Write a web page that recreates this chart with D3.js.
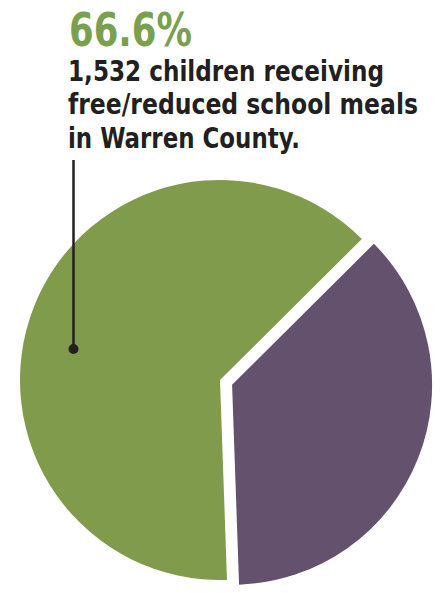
<!DOCTYPE html>
<html>
<head>
<meta charset="utf-8">
<script src="https://cdn.jsdelivr.net/npm/d3@7"></script>
<style>
  body { margin: 0; background: #fff; }
  svg { display: block; }
</style>
</head>
<body>
<svg id="chart" width="441" height="593"></svg>
<script>
// slice shares as drawn in the picture (green = receiving meals)
var categories = ["receiving", "not receiving"];
var shares = [63.1, 36.9];
var colors = ["#819b4c", "#63516e"];
var headline = "66.6%";
var labelLines = ["1,532 children receiving", "free/reduced school meals", "in Warren County."];

var svg = d3.select("#chart");
var cx = 220, cy = 380, radius = 200;

var pie = d3.pie()
    .sort(null)
    .startAngle(Math.PI * 178 / 180 - 2 * Math.PI)
    .endAngle(Math.PI * 178 / 180);

var arc = d3.arc().innerRadius(0).outerRadius(radius);

var data = categories.map(function(c, i){ return {name: c, value: shares[i], color: colors[i]}; });

var g = svg.append("g").attr("transform", "translate(" + cx + "," + cy + ")");

g.selectAll("path")
    .data(pie.value(function(d){ return d.value; })(data))
    .enter().append("path")
    .attr("d", arc)
    .attr("fill", function(d){ return d.data.color; })
    .attr("transform", function(d, i){
        // pull the smaller slice out a bit
        if (i == 0) return null;
        var mid = (d.startAngle + d.endAngle) / 2;
        var off = 13;
        return "translate(" + (Math.sin(mid) * off) + "," + (-Math.cos(mid) * off) + ")";
    });

// leader line + dot
svg.append("line")
    .attr("x1", 73.5).attr("x2", 73.5)
    .attr("y1", 160).attr("y2", 349)
    .attr("stroke", "#231f20")
    .attr("stroke-width", 2.5);
svg.append("circle")
    .attr("cx", 73.5).attr("cy", 349).attr("r", 5)
    .attr("fill", "#231f20");

// text
var font = "'Liberation Sans Narrow', 'DejaVu Sans Condensed', 'Liberation Sans', sans-serif";
svg.append("text")
    .attr("x", 69).attr("y", 46)
    .attr("font-family", font)
    .attr("font-weight", "bold")
    .attr("font-size", 46)
    .attr("fill", "#7aa04f")
    .attr("textLength", 123)
    .attr("lengthAdjust", "spacingAndGlyphs")
    .text(headline);

var lineWidths = [316, 350, 232];
var baselines = [81, 114, 148];
svg.selectAll("text.lbl")
    .data(labelLines)
    .enter().append("text")
    .attr("class", "lbl")
    .attr("x", 68)
    .attr("y", function(d, i){ return baselines[i]; })
    .attr("font-family", font)
    .attr("font-weight", "bold")
    .attr("font-size", 29)
    .attr("fill", "#231f20")
    .attr("textLength", function(d, i){ return lineWidths[i]; })
    .attr("lengthAdjust", "spacingAndGlyphs")
    .text(function(d){ return d; });
</script>
</body>
</html>
